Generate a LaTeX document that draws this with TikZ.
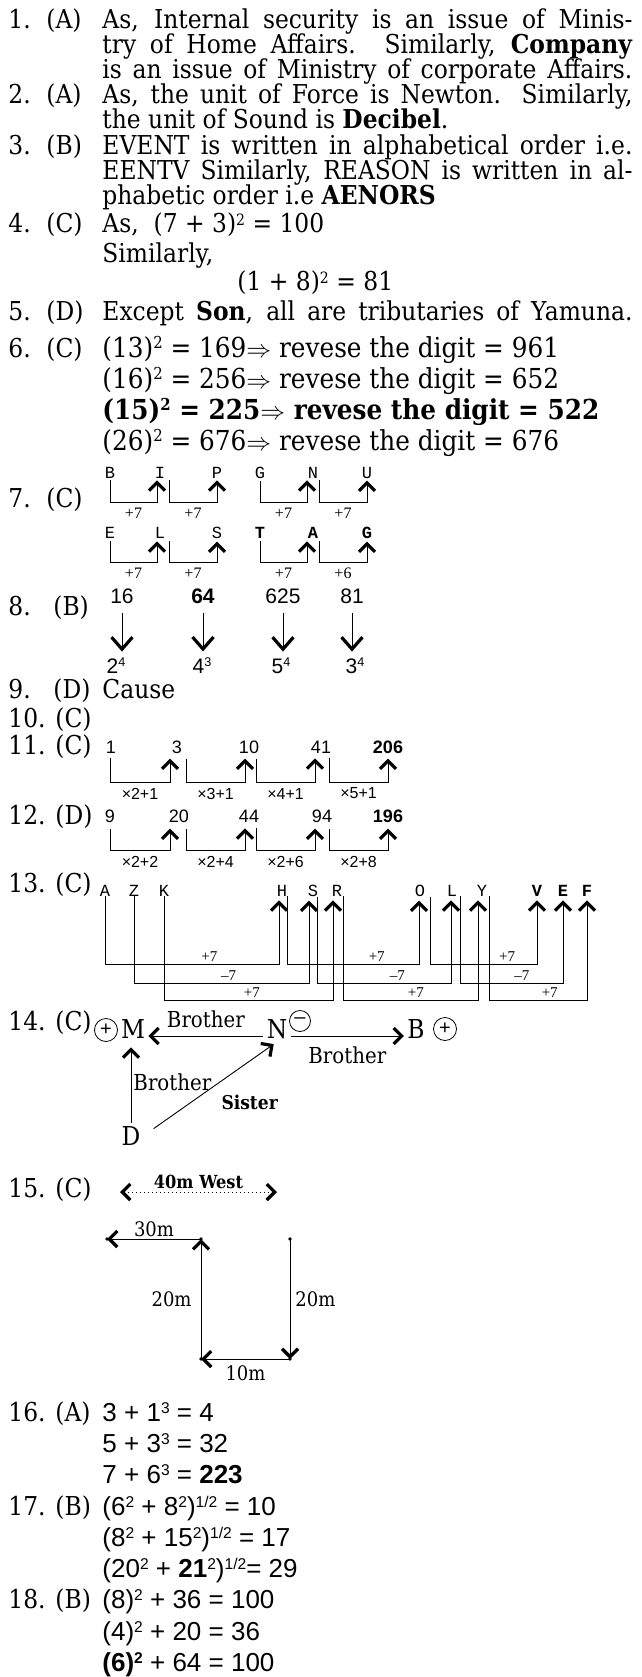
\documentclass[tikz,border=0pt]{standalone}
\usepackage{fontspec}
\setmainfont[FakeStretch=0.9]{DejaVu Serif}
\newfontfamily\sansnum{Liberation Sans}
\newfontfamily\monolet{Liberation Mono}
\newfontfamily\smallser{Liberation Serif}
\usetikzlibrary{arrows.meta, positioning, calc}
\newcommand\pw[1]{\raisebox{0.3em}{\scalebox{0.6}{#1}}}

\begin{document}
\begin{tikzpicture}[x=1pt, y=-1pt, line width=0.9pt,
    >={Straight Barb[length=8pt,width=16pt,line width=3.2pt]},
    txt/.style={anchor=base west, inner sep=0pt, font=\fontsize{26}{26}\selectfont},
    eq/.style={anchor=base west, inner sep=0pt, font=\sansnum\fontsize{26}{26}\selectfont},
    ltr/.style={anchor=base, inner sep=0pt, font=\monolet\fontsize{17}{17}\selectfont},
    stp/.style={pos=0.25, below=5pt, inner sep=0pt, font=\smallser\fontsize{16}{16}\selectfont},
    dif/.style={above=3pt, inner sep=0pt, font=\smallser\fontsize{15}{15}\selectfont},
    num/.style={anchor=base, inner sep=0pt, font=\sansnum\fontsize{18}{18}\selectfont},
    big/.style={anchor=base, inner sep=0pt, font=\sansnum\fontsize{21}{21}\selectfont},
    opl/.style={pos=0.25, below=5pt, inner sep=0pt, font=\sansnum\fontsize{16}{16}\selectfont},
    dn/.style={-{Straight Barb[length=12pt,width=21pt,line width=3.2pt]}, shorten <=9pt, shorten >=6pt},
    rel/.style={anchor=base, inner sep=3pt, font=\fontsize{26}{26}\selectfont},
    bro/.style={inner sep=0pt, font=\fontsize{22}{22}\selectfont},
    sgn/.style={circle, draw, line width=0.8pt, inner sep=0pt, minimum size=23pt, font=\sansnum\fontsize{20}{20}\selectfont},
    meas/.style={inner sep=0pt, font=\fontsize{20}{20}\selectfont}]
    \useasboundingbox (0,0) rectangle (641,1677);

    % 1 to 3
    \node[txt] (i1) at (8,29) {\makebox[38pt][l]{1.}(A)}; % 1
    \node[txt] (t1a) at (102,29) {\makebox[530pt][s]{As, Internal security is an issue of Minis-}};
    \node[txt] (t1b) at (102,54) {\makebox[530pt][s]{try of Home Affairs. Similarly, \textbf{Company}}};
    \node[txt] (t1c) at (102,79) {\makebox[530pt][s]{is an issue of Ministry of corporate Affairs.}};
    \node[txt] (i2) at (8,104) {\makebox[38pt][l]{2.}(A)}; % 2
    \node[txt] (t2a) at (102,104) {\makebox[530pt][s]{As, the unit of Force is Newton. Similarly,}};
    \node[txt] (t2b) at (102,129) {the unit of Sound is \textbf{Decibel}.};
    \node[txt] (i3) at (8,155) {\makebox[38pt][l]{3.}(B)}; % 3
    \node[txt] (t3a) at (102,155) {\makebox[530pt][s]{EVENT is written in alphabetical order i.e.}};
    \node[txt] (t3b) at (102,180) {\makebox[530pt][s]{EENTV Similarly, REASON is written in al-}};
    \node[txt] (t3c) at (102,205) {phabetic order i.e \textbf{AENORS}};

    % 4 to 6
    \node[txt] (i4) at (8,233) {\makebox[38pt][l]{4.}(C)}; % 4
    \node[txt] (t4a) at (102,233) {As,~~(7 + 3)\pw{2} = 100};
    \node[txt] (t4b) at (102,263) {Similarly,};
    \node[txt] (t4c) at (237,291) {(1 + 8)\pw{2} = 81};
    \node[txt] (i5) at (8,320) {\makebox[38pt][l]{5.}(D)}; % 5
    \node[txt] (t5) at (102,320) {\makebox[530pt][s]{Except \textbf{Son}, all are tributaries of Yamuna.}};
    \node[txt] (i6) at (8,357) {\makebox[38pt][l]{6.}(C)}; % 6
    \node[txt, font=\fontsize{27.5}{27.5}\selectfont] (t6a) at (102,357) {(13)\pw{2} = 169$\Rightarrow$ revese the digit = 961};
    \node[txt, font=\fontsize{27.5}{27.5}\selectfont] (t6b) at (102,388) {(16)\pw{2} = 256$\Rightarrow$ revese the digit = 652};
    \node[txt, font=\bfseries\fontsize{27.5}{27.5}\selectfont] (t6c) at (102,419) {(15)\pw{2} = 225$\Rightarrow$ revese the digit = 522};
    \node[txt, font=\fontsize{27.5}{27.5}\selectfont] (t6d) at (102,450) {(26)\pw{2} = 676$\Rightarrow$ revese the digit = 676};

    % 7
    \node[txt] (i7) at (8,507) {\makebox[38pt][l]{7.}(C)}; % 7
    \node[ltr] (b1) at (110,478) {B};
    \node[ltr] (i1l) at (160,478) {I};
    \node[ltr] (p1) at (217,478) {P};
    \node[ltr] (g1) at (260,478) {G};
    \node[ltr] (n1) at (313,478) {N};
    \node[ltr] (u1) at (367,478) {U};
    \node[ltr] (e2) at (110,538) {E};
    \node[ltr] (l2) at (160,538) {L};
    \node[ltr] (s2) at (217,538) {S};
    \node[ltr] (t2) at (260,538) {\bfseries T};
    \node[ltr] (a2) at (313,538) {\bfseries A};
    \node[ltr] (g2) at (367,538) {\bfseries G};
    \draw[->] ([yshift=-2pt]b1.south) -- ++(0,22) -| node[stp]{+7} ([xshift=-3pt,yshift=-2pt]i1l.south);
    \draw[->] ([xshift=9pt,yshift=-2pt]i1l.south) -- ++(0,22) -| node[stp]{+7} ([yshift=-2pt]p1.south);
    \draw[->] ([yshift=-2pt]g1.south) -- ++(0,22) -| node[stp]{+7} ([xshift=-6pt,yshift=-2pt]n1.south);
    \draw[->] ([xshift=6pt,yshift=-2pt]n1.south) -- ++(0,22) -| node[stp]{+7} ([yshift=-2pt]u1.south);
    \draw[->] ([yshift=-3pt]e2.south) -- ++(0,21) -| node[stp]{+7} ([xshift=-3pt,yshift=-3pt]l2.south);
    \draw[->] ([xshift=9pt,yshift=-3pt]l2.south) -- ++(0,21) -| node[stp]{+7} ([yshift=-3pt]s2.south);
    \draw[->] ([yshift=-3pt]t2.south) -- ++(0,21) -| node[stp]{+7} ([xshift=-6pt,yshift=-3pt]a2.south);
    \draw[->] ([xshift=6pt,yshift=-3pt]a2.south) -- ++(0,21) -| node[stp]{+6} ([yshift=-3pt]g2.south);

    % 8
    \node[txt] (i8) at (8,615) {\makebox[45pt][l]{8.}(B)}; % 8
    \node[big] (s16) at (122,603) {16};
    \node[big] (s64) at (203,603) {\bfseries 64};
    \node[big] (s625) at (283,603) {625};
    \node[big] (s81) at (352,603) {81};
    \node[big] (p16) at (116,673) {2\pw{4}};
    \node[big] (p64) at (202,673) {4\pw{3}};
    \node[big] (p625) at (281,673) {5\pw{4}};
    \node[big] (p81) at (355,673) {3\pw{4}};
    \draw[dn] (s16.south) -- (s16.south |- p16.north);
    \draw[dn] (s64.south) -- (s64.south |- p64.north);
    \draw[dn] (s625.south) -- (s625.south |- p625.north);
    \draw[dn] (s81.south) -- (s81.south |- p81.north);

    % 9 and 10
    \node[txt] (i9) at (8,698) {\makebox[45pt][l]{9.}(D)}; % 9
    \node[txt] (t9) at (102,698) {Cause};
    \node[txt] (i10) at (8,727) {\makebox[47pt][l]{10.}(C)}; % 10

    % 11
    \node[txt] (i11) at (8,754) {\makebox[47pt][l]{11.}(C)}; % 11
    \node[num] (a1) at (111,753) {1};
    \node[num] (a2) at (177,753) {3};
    \node[num] (a3) at (249,753) {10};
    \node[num] (a4) at (321,753) {41};
    \node[num] (a5) at (388,753) {\bfseries 206};
    \draw[->] ([xshift=-1pt,yshift=-5pt]a1.south) -- ++(0,24) -| node[opl]{×2+1} ([xshift=-7pt,yshift=-5pt]a2.south);
    \draw[->] ([xshift=9pt,yshift=-5pt]a2.south) -- ++(0,24) -| node[opl]{×3+1} ([xshift=-4pt,yshift=-5pt]a3.south);
    \draw[->] ([xshift=7pt,yshift=-5pt]a3.south) -- ++(0,24) -| node[opl]{×4+1} ([xshift=-6pt,yshift=-5pt]a4.south);
    \draw[->] ([xshift=8pt,yshift=-5pt]a4.south) -- ++(0,24) -| node[opl]{×5+1} ([yshift=-5pt]a5.south);

    % 12
    \node[txt] (i12) at (8,824) {\makebox[47pt][l]{12.}(D)}; % 12
    \node[num] (b1n) at (110,822) {9};
    \node[num] (b2n) at (179,822) {20};
    \node[num] (b3n) at (249,822) {44};
    \node[num] (b4n) at (322,822) {94};
    \node[num] (b5n) at (388,822) {\bfseries 196};
    \draw[->] ([yshift=-6pt]b1n.south) -- ++(0,22) -| node[opl]{×2+2} ([xshift=-9pt,yshift=-6pt]b2n.south);
    \draw[->] ([xshift=7pt,yshift=-6pt]b2n.south) -- ++(0,22) -| node[opl]{×2+4} ([xshift=-4pt,yshift=-6pt]b3n.south);
    \draw[->] ([xshift=7pt,yshift=-6pt]b3n.south) -- ++(0,22) -| node[opl]{×2+6} ([xshift=-7pt,yshift=-6pt]b4n.south);
    \draw[->] ([xshift=7pt,yshift=-6pt]b4n.south) -- ++(0,22) -| node[opl]{×2+8} ([yshift=-6pt]b5n.south);

    % 13
    \node[txt] (i13) at (8,892) {\makebox[47pt][l]{13.}(C)}; % 13
    \node[ltr] (la) at (105,896) {A};
    \node[ltr] (lz) at (134,896) {Z};
    \node[ltr] (lk) at (164,896) {K};
    \node[ltr] (lh) at (282,896) {H};
    \node[ltr] (ls) at (313,896) {S};
    \node[ltr] (lr) at (337,896) {R};
    \node[ltr] (lo) at (420,896) {O};
    \node[ltr] (ll) at (452,896) {L};
    \node[ltr] (ly) at (482,896) {Y};
    \node[ltr] (lv) at (537,896) {\bfseries V};
    \node[ltr] (le) at (563,896) {\bfseries E};
    \node[ltr] (lf) at (587,896) {\bfseries F};
    \draw[->] (la.south) -- ++(0,68) -| node[dif, pos=0.30]{+7} ([xshift=-3pt,yshift=-4pt]lh.south);
    \draw[->] (lz.south) -- ++(0,87) -| node[dif, pos=0.27]{–7} ([xshift=-4pt,yshift=-4pt]ls.south);
    \draw[->] (lk.south) -- ++(0,104) -| node[dif, pos=0.26]{+7} ([xshift=-4pt,yshift=-4pt]lr.south);
    \draw[->] ([xshift=5pt]lh.south) -- ++(0,68) -| node[dif, pos=0.34]{+7} ([xshift=-1pt,yshift=-4pt]lo.south);
    \draw[->] ([xshift=4pt]ls.south) -- ++(0,87) -| node[dif, pos=0.30]{–7} ([xshift=-1pt,yshift=-4pt]ll.south);
    \draw[->] ([xshift=6pt]lr.south) -- ++(0,104) -| node[dif, pos=0.27]{+7} ([xshift=-4pt,yshift=-4pt]ly.south);
    \draw[->] ([xshift=10pt]lo.south) -- ++(0,68) -| node[dif, pos=0.36]{+7} ([yshift=-4pt]lv.south);
    \draw[->] ([xshift=8pt]ll.south) -- ++(0,87) -| node[dif, pos=0.30]{–7} ([yshift=-4pt]le.south);
    \draw[->] ([xshift=7pt]ly.south) -- ++(0,104) -| node[dif, pos=0.31]{+7} ([yshift=-4pt]lf.south);

    % 14
    \node[txt] (i14) at (8,1030) {\makebox[47pt][l]{14.}(C)}; % 14
    \node[rel] (M) at (133,1038) {M};
    \node[rel] (N) at (277,1038) {N};
    \node[rel] (B) at (416,1038) {B};
    \node[rel] (D) at (131,1145) {D};
    \node[sgn] (pm) at (106,1030) {+};
    \node[sgn, minimum size=21pt] (mn) at (300,1021) {–};
    \node[sgn] (pb) at (445,1029) {+};
    \draw[->] ([yshift=2pt]N.base west) -- node[above=8pt, bro]{Brother} ([yshift=2pt]M.base east);
    \draw[->] ([yshift=2pt]N.base east) -- node[below=10pt, bro]{Brother} ([yshift=2pt]B.base west);
    \draw[->, shorten >=6pt] (D.north) -- (D.north |- M.south) node[midway, right=2pt, bro]{Brother};
    \draw[->, shorten <=12pt, shorten >=4pt] (D.east) -- (N.south) node[pos=0.58, anchor=north west, yshift=-13pt, bro, font=\bfseries\fontsize{19}{19}\selectfont]{Sister};

    % 15
    \node[txt] (i15) at (8,1197) {\makebox[47pt][l]{15.}(C)}; % 15
    \coordinate (d0) at (120,1192);
    \coordinate (d1) at (277,1192);
    \draw[<->, dash pattern=on 1.4pt off 2.6pt] (d0) -- node[above=3pt, meas, font=\bfseries\fontsize{18}{18}\selectfont]{40m West} (d1);
    \coordinate (w0) at (290,1239);
    \coordinate (w1) at (290,1359);
    \coordinate (w2) at (201,1359);
    \coordinate (w3) at (201,1239);
    \coordinate (w4) at (107,1239);
    \draw[->] (w0) -- node[right=5pt, meas]{20m} (w1);
    \draw[->] (w1) -- node[below=6pt, meas]{10m} (w2);
    \draw[->] (w2) -- node[left=9pt, meas]{20m} (w3);
    \draw[->] (w3) -- node[above=2pt, meas]{30m} (w4);
    \fill (w0) circle (1.8) (w1) circle (1.8) (w2) circle (1.8) (w3) circle (1.8) (w4) circle (1.8);

    % 16 to 18
    \node[txt] (i16) at (8,1421) {\makebox[47pt][l]{16.}(A)}; % 16
    \node[eq] (e16a) at (102,1421) {3 + 1\pw{3} = 4};
    \node[eq] (e16b) at (102,1452) {5 + 3\pw{3} = 32};
    \node[eq] (e16c) at (102,1483) {7 + 6\pw{3} = \textbf{223}};
    \node[txt] (i17) at (8,1515) {\makebox[47pt][l]{17.}(B)}; % 17
    \node[eq] (e17a) at (102,1515) {(6\pw{2} + 8\pw{2})\pw{1/2} = 10};
    \node[eq] (e17b) at (102,1546) {(8\pw{2} + 15\pw{2})\pw{1/2} = 17};
    \node[eq] (e17c) at (102,1577) {(20\pw{2} + \textbf{21}\pw{2})\pw{1/2}= 29};
    \node[txt] (i18) at (8,1608) {\makebox[47pt][l]{18.}(B)}; % 18
    \node[eq] (e18a) at (102,1608) {(8)\pw{2} + 36 = 100};
    \node[eq] (e18b) at (102,1640) {(4)\pw{2} + 20 = 36};
    \node[eq] (e18c) at (102,1671) {\textbf{(6)\pw{2}} + 64 = 100};
\end{tikzpicture}
\end{document}
